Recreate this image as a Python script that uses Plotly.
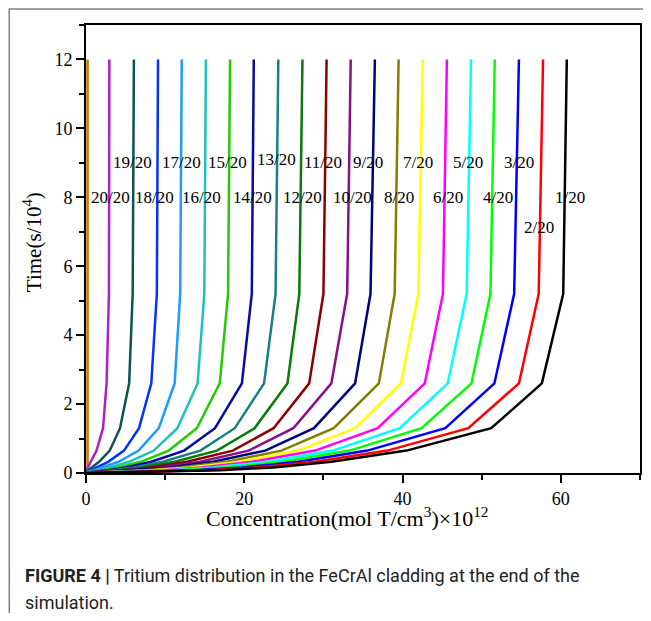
import plotly.graph_objects as go

# time points (s/10^4)
times = [0, 0.04, 0.081, 0.1625, 0.325, 0.65, 1.3, 2.6, 5.2, 12]

labels = ["20/20", "19/20", "18/20", "17/20", "16/20", "15/20", "14/20", "13/20", "12/20", "11/20",
          "10/20", "9/20", "8/20", "7/20", "6/20", "5/20", "4/20", "3/20", "2/20", "1/20"]
colors = ["#AA22CC", "#0A5550", "#0033FF", "#1E9BFF", "#20C0C0", "#22CC00", "#0A0AA0", "#1A8080",
          "#0A7A0A", "#8B0000", "#881088", "#000080", "#808000", "#FFFF00", "#FF00FF", "#00FFFF",
          "#00FF00", "#0000FF", "#FF0000", "#000000"]

c_t004 = [0.03, 0.1, 0.2, 0.35, 0.5, 0.7, 0.95, 1.2, 1.5, 1.85, 2.2, 2.6, 3.0, 3.45, 4.0, 4.6, 5.3, 6.2, 7.2, 8.3]
c_t008 = [0.09, 0.3, 0.64, 1.09, 1.5, 2.1, 2.75, 3.4, 4.1, 4.85, 5.7, 6.55, 7.5, 8.5, 9.6, 10.7, 12.15, 13.7, 15.3, 17.0]
c_t016 = [0.24, 0.73, 1.37, 2.18, 3.03, 4.0, 5.0, 6.08, 7.1, 8.2, 9.35, 10.6, 11.85, 13.2, 14.6, 16.05, 17.8, 19.7, 21.65, 23.7]
c_t033 = [0.6, 1.65, 2.8, 4.1, 5.45, 6.9, 8.25, 9.7, 11.2, 12.75, 14.4, 16.05, 17.8, 19.35, 21.0, 22.85, 24.8, 26.8, 28.9, 31.0]
c_t065 = [1.33, 3.0, 4.8, 6.65, 8.55, 10.45, 12.4, 14.45, 16.55, 18.55, 20.55, 22.65, 24.7, 26.8, 28.95, 31.15, 33.3, 35.55, 38.1, 40.5]
c_t13 = [2.15, 4.3, 6.7, 9.2, 11.55, 14.0, 16.3, 18.8, 21.3, 23.7, 26.2, 28.8, 31.3, 34.0, 36.85, 39.65, 42.4, 45.4, 48.3, 51.2]
c_t26 = [2.6, 5.45, 8.25, 11.2, 14.1, 16.9, 19.7, 22.5, 25.45, 28.2, 31.0, 34.0, 37.0, 39.8, 42.8, 45.7, 48.7, 51.6, 54.7, 57.6]
c_t52 = [2.9, 5.9, 8.95, 11.9, 14.95, 17.95, 20.95, 23.95, 26.95, 30.0, 33.0, 35.95, 39.0, 42.0, 45.1, 48.1, 51.1, 54.1, 57.2, 60.3]
c_t12 = [2.95, 6.05, 9.1, 12.1, 15.15, 18.2, 21.2, 24.3, 27.35, 30.4, 33.45, 36.5, 39.5, 42.55, 45.6, 48.65, 51.65, 54.7, 57.75, 60.75]

# surface curve (orange) at x ~ 0
surface_x = [0.2, 0.2]
surface_t = [0, 12]

# label positions
label_x = [3.1, 5.85, 8.7, 12.1, 14.65, 17.9, 21.0, 24.1, 27.4, 30.0,
           33.7, 35.6, 39.5, 42.0, 45.8, 48.3, 52.1, 54.7, 57.25, 61.1]
label_t = [8.0, 9.0, 8.0, 9.0, 8.0, 9.0, 8.0, 9.1, 8.0, 9.0,
           8.0, 9.0, 8.0, 9.0, 8.0, 9.0, 8.0, 9.0, 7.13, 8.0]

x_ticks = [0, 20, 40, 60]
y_ticks = [0, 2, 4, 6, 8, 10, 12]

fig = go.Figure()
fig.add_trace(go.Scatter(x=surface_x, y=surface_t, mode="lines",
                         line=dict(color="#C87800", width=2.5), showlegend=False))
for i in range(len(labels)):
    xs = [0, c_t004[i], c_t008[i], c_t016[i], c_t033[i], c_t065[i], c_t13[i], c_t26[i], c_t52[i], c_t12[i]]
    fig.add_trace(go.Scatter(x=xs, y=times, mode="lines", name=labels[i],
                             line=dict(color=colors[i], width=2.5), showlegend=False))

serif = "Liberation Serif"
for i in range(len(labels)):
    fig.add_annotation(x=label_x[i], y=label_t[i], text=labels[i], showarrow=False,
                       xanchor="center", yanchor="middle",
                       font=dict(family=serif, size=17, color="black"))

# page body has an 8px margin: reference pixel coords are shifted by OFF
OFF = 8
L, R, T, B = 86 - OFF, 642 - OFF, 25 - OFF, 473 - OFF
W, H = 643, 605
pw, ph = R - L, B - T

def px(x):
    return (x - OFF - L) / pw

def py(y):
    return (B - (y - OFF)) / ph

fig.add_annotation(x=px(348), y=py(517), xref="paper", yref="paper",
                   text="Concentration(mol T/cm<sup>3</sup>)×10<sup>12</sup>", showarrow=False,
                   xanchor="center", yanchor="middle", font=dict(family=serif, size=22, color="black"))
fig.add_annotation(x=px(32), y=py(242), xref="paper", yref="paper",
                   text="Time(s/10<sup>4</sup>)", showarrow=False, textangle=-90,
                   xanchor="center", yanchor="middle", font=dict(family=serif, size=21, color="black"))

cap_font = "Roboto"
fig.add_annotation(x=px(23), y=py(575), xref="paper", yref="paper",
                   text="<b>FIGURE 4 |</b> Tritium distribution in the FeCrAl cladding at the end of the",
                   showarrow=False, xanchor="left", yanchor="middle",
                   font=dict(family=cap_font, size=18, color="#222222"))
fig.add_annotation(x=px(23), y=py(602), xref="paper", yref="paper",
                   text="simulation.", showarrow=False, xanchor="left", yanchor="middle",
                   font=dict(family=cap_font, size=18, color="#222222"))

fig.add_shape(type="rect", xref="paper", yref="paper",
              x0=px(9), x1=px(700), y0=py(9), y1=py(700),
              line=dict(color="#808080", width=1.5), fillcolor="rgba(0,0,0,0)", layer="below")

tick_font = dict(family=serif, size=18, color="black")
axis_common = dict(showgrid=False, zeroline=False, showline=True, linecolor="black", linewidth=2,
                   mirror=True, ticks="outside", ticklen=8, tickwidth=1.5, tickcolor="black",
                   tickfont=tick_font, layer="above traces")

fig.update_xaxes(range=[0, 70], tickvals=x_ticks, **axis_common,
                 minor=dict(ticks="outside", ticklen=5, tickwidth=1.5, tickcolor="black", dtick=10, tick0=0))
fig.update_yaxes(range=[0, 13], tickvals=y_ticks, **axis_common,
                 minor=dict(ticks="outside", ticklen=5, tickwidth=1.5, tickcolor="black", dtick=1, tick0=0))

fig.update_layout(width=W, height=H, margin=dict(l=L, r=W - R, t=T, b=H - B),
                  font=dict(family=serif, size=18, color="black"),
                  paper_bgcolor="white", plot_bgcolor="white", showlegend=False)

fig.write_html("out.html")
